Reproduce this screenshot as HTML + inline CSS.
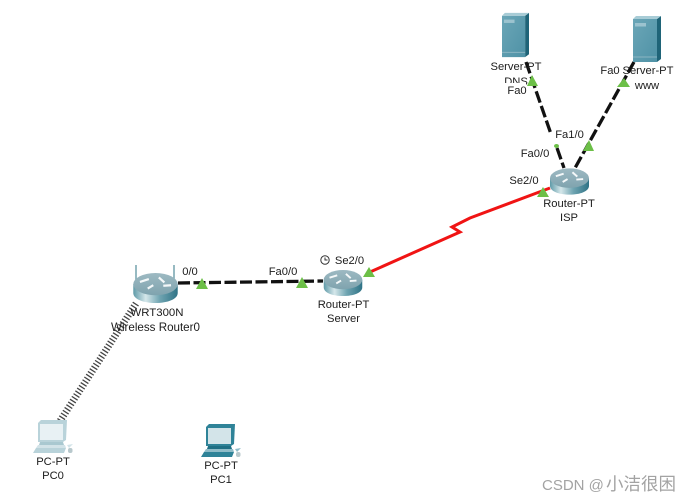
<!DOCTYPE html>
<html>
<head>
<meta charset="utf-8">
<style>
html,body{margin:0;padding:0;background:#fff;width:692px;height:502px;overflow:hidden}
svg{display:block;filter:blur(.3px)}
text{font-family:"Liberation Sans",sans-serif;font-size:11.2px;fill:#1c1c1c;text-anchor:middle}
</style>
</head>
<body>
<svg width="692" height="502" viewBox="0 0 692 502" xmlns="http://www.w3.org/2000/svg">
<defs>
<linearGradient id="rb" x1="0" x2="1" y1="0" y2="0">
<stop offset="0" stop-color="#5f9aa8"/><stop offset=".28" stop-color="#d5e7ea"/><stop offset=".6" stop-color="#6fa4b1"/><stop offset="1" stop-color="#2f7386"/>
</linearGradient>
<linearGradient id="rt" x1="0" x2="0" y1="0" y2="1">
<stop offset="0" stop-color="#9db9c2"/><stop offset="1" stop-color="#7fa3ae"/>
</linearGradient>
<linearGradient id="sv" x1="0" x2="1" y1="0" y2="1">
<stop offset="0" stop-color="#6ba6b7"/><stop offset="1" stop-color="#4f92a6"/>
</linearGradient>
<symbol id="router" viewBox="0 0 40 27" overflow="visible">
<path d="M0 10 V18 C0 23.500 9 27 20 27 C31 27 40 23.500 40 18 V10 Z" fill="url(#rb)"/>
<ellipse cx="20" cy="10" rx="20" ry="10" fill="url(#rt)"/>
<g stroke="#f4f8f9" stroke-width="2" fill="none">
<path d="M6 8 L14 5.500 M13 14 L18 11 M23 4 L28 8.500 M27 11.500 L34 11"/>
</g>
</symbol>
<symbol id="server" viewBox="0 0 28 46" overflow="visible">
<path d="M0 3 H24 V46 H0 Z" fill="url(#sv)"/>
<path d="M24 3 L28 0 V43 L24 46 Z" fill="#1f6478"/>
<path d="M0 3 L3 0 H28 L24 3 Z" fill="#a8ccd6"/>
<rect x="2" y="7" width="11" height="3.500" fill="#9cc3cf"/>
<path d="M0 41 H24" stroke="#8ab5c2" stroke-width="1"/>
</symbol>
<symbol id="pc" viewBox="0 0 40 34" overflow="visible">
<path d="M5 3 L8 0 H34 L33 20 L30 22 H5 Z" fill="var(--d)"/>
<rect x="7" y="4" width="23" height="16" fill="var(--s)"/>
<path d="M7 22 H30 L31 25 H6 Z" fill="var(--m)"/>
<path d="M5 25 H32 L33 28 H3 Z" fill="var(--l)"/>
<path d="M3 28 H33 L31 33 H0 Z" fill="var(--d)"/>
<path d="M34 25 L40 24 L36 28 Z" fill="var(--l)"/>
<rect x="35" y="28" width="4.500" height="5" rx="2" fill="#b8c8cc"/>
</symbol>
</defs>

<line x1="60" y1="421" x2="137" y2="302" stroke="#444" stroke-width="7" stroke-dasharray="1.300 2"/>

<g fill="none" stroke="#111" stroke-width="3.300" stroke-dasharray="12 3.500">
<line x1="178" y1="283" x2="323" y2="281"/>
<line x1="526" y1="62" x2="551" y2="134"/>
<line x1="557" y1="148" x2="564" y2="168"/>
<line x1="634" y1="62" x2="575" y2="168"/>
</g>

<polyline points="370,272 460,232 452,227 470,218 550,188" fill="none" stroke="#f01414" stroke-width="3"/>

<path d="M136 285 V265" stroke="#7da8b3" stroke-width="1.600"/>
<path d="M174 285 V265" stroke="#7da8b3" stroke-width="1.600"/>
<use href="#router" x="133" y="273" width="45" height="30"/>
<use href="#router" x="323" y="270" width="40" height="26"/>
<use href="#router" x="550" y="168" width="39" height="27"/>

<use href="#server" x="502" y="12" width="27" height="46"/>
<use href="#server" x="633" y="16" width="28" height="46"/>

<use href="#pc" x="33" y="420" width="40" height="34" style="--d:#b9d3da;--s:#e8f1f4;--l:#d2e3e8;--m:#a9c8d0"/>
<use href="#pc" x="201" y="424" width="40" height="34" style="--d:#2f8398;--s:#d3e4e9;--l:#8fbcc8;--m:#1f6f84"/>

<text x="516" y="70">Server-PT</text>
<text x="516" y="85">DNS</text>
<rect x="500" y="83" width="26" height="6" fill="#fff"/>

<g fill="#6cbf47">
<path d="M196 289 L202 278 L208 289 Z"/>
<path d="M296 288 L302 277 L308 288 Z"/>
<path d="M363 277 L369 267 L375 277 Z"/>
<path d="M537 197 L543 187 L549 197 Z"/>
<path d="M527 86 L532 75 L538 86 Z"/>
<path d="M617 87 L624 78 L630 87 Z"/>
<path d="M583 151 L589 140 L594 151 Z"/>
<ellipse cx="556.500" cy="146" rx="2.500" ry="2"/>
</g>

<text x="517" y="94">Fa0</text>
<text x="569.500" y="138">Fa1/0</text>
<text x="535" y="157">Fa0/0</text>
<text x="524" y="184">Se2/0</text>
<text x="569" y="207">Router-PT</text>
<text x="569" y="221">ISP</text>
<text x="610" y="74">Fa0</text>
<text x="648" y="74">Server-PT</text>
<text x="647" y="89">www</text>

<text x="190" y="275">0/0</text>
<text x="283" y="275">Fa0/0</text>
<circle cx="325" cy="260" r="4.200" fill="none" stroke="#333" stroke-width="1"/>
<path d="M325 257.500 V260 H327.500" fill="none" stroke="#333" stroke-width="1"/>
<text x="349.500" y="264">Se2/0</text>
<text x="157" y="316" style="font-size:11.400px">WRT300N</text>
<text x="155.500" y="331" style="font-size:11.600px">Wireless Router0</text>
<text x="343.500" y="308">Router-PT</text>
<text x="343.500" y="322">Server</text>

<text x="53" y="465">PC-PT</text>
<text x="53" y="479">PC0</text>
<text x="221" y="469">PC-PT</text>
<text x="221" y="483">PC1</text>

<text x="542" y="490" style="text-anchor:start;font-size:15px;fill:#a3a3a3">CSDN @</text>
<text x="606" y="490" style="text-anchor:start;font-family:'Liberation Sans','Noto Sans CJK SC',sans-serif;font-size:17.500px;fill:#a3a3a3">小洁很困</text>
</svg>
</body>
</html>
